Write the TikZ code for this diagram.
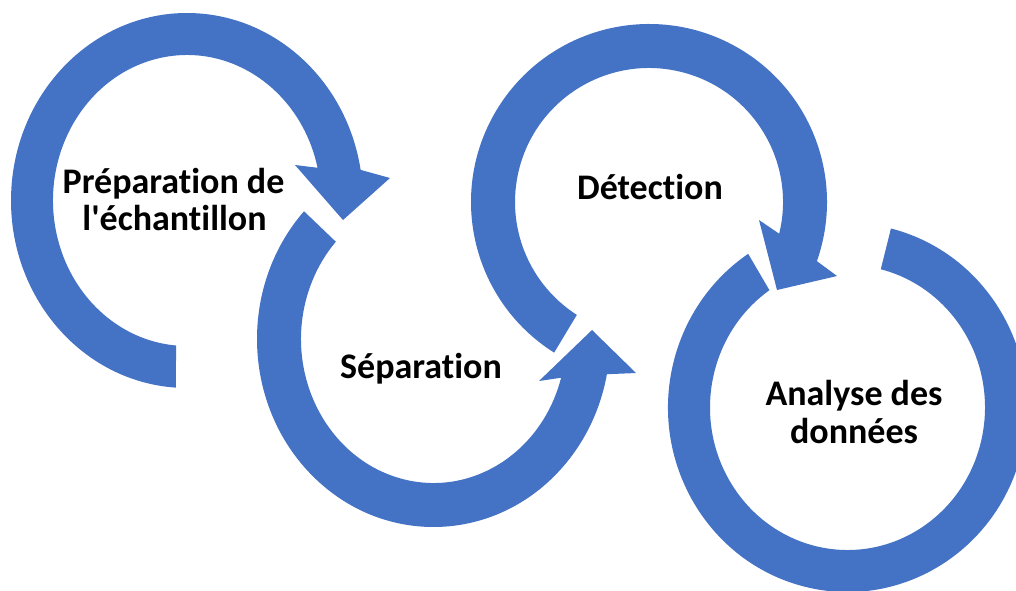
\documentclass[tikz,border=0pt]{standalone}
\usepackage{fontspec}
\newfontfamily\labfont{Carlito}[Ligatures=CommonOff]
\usetikzlibrary{calc}
\definecolor{arrowblue}{HTML}{4472C4}
\begin{document}
\begin{tikzpicture}[x=1pt,y=-1pt,
  band/.style={fill=arrowblue, draw=none},
  lbl/.style={font=\labfont\bfseries\fontsize{36}{38}\selectfont, anchor=base, inner sep=0pt, text=black}]
\useasboundingbox (0,0) rectangle (1016,590);
\fill[white] (0,0) rectangle (1016,590);
\clip (0,0) rectangle (1016,590);

% shape 1 : Preparation
\coordinate (c1) at (187,200.5);
\coordinate (o1) at (390,178);
\coordinate (t1) at (343,220);
\coordinate (i1) at (295,165);
\fill[band] ($(c1)+(93.6:176 and 187.5)$)
  arc[start angle=93.6, end angle=350.6, x radius=176, y radius=187.5]
  -- (o1) -- (t1) -- (i1) -- ($(c1)+(347:134 and 145.5)$)
  arc[start angle=347, end angle=94.7, x radius=134, y radius=145.5] -- cycle;

% shape 2 : Separation
\coordinate (c2) at (433.5,339);
\coordinate (o2) at (636,373);
\coordinate (t2) at (592,330);
\coordinate (i2) at (539,381);
\fill[band] ($(c2)+(222.8:176.5 and 188)$)
  arc[start angle=222.8, end angle=10.8, x radius=176.5, y radius=188]
  -- (o2) -- (t2) -- (i2) -- ($(c2)+(15.6:132.5 and 144)$)
  arc[start angle=15.6, end angle=222.5, x radius=132.5, y radius=144] -- cycle;

% shape 3 : Detection
\coordinate (c3) at (649,202);
\coordinate (o3) at (837,276);
\coordinate (t3) at (777,290);
\coordinate (i3) at (759,220);
\fill[band] ($(c3)+(122.2:178 and 178)$)
  arc[start angle=122.2, end angle=379.4, x radius=178, y radius=178]
  -- (o3) -- (t3) -- (i3) -- ($(c3)+(373.7:134 and 134)$)
  arc[start angle=373.7, end angle=122.6, x radius=134, y radius=134] -- cycle;

% shape 4 : Analyse
\coordinate (c4) at (847.5,407.5);
\fill[band] ($(c4)+(284:179.5 and 184.5)$)
  arc[start angle=284, end angle=596.4, x radius=179.5, y radius=184.5]
  -- ($(c4)+(595.4:137.5 and 142.5)$)
  arc[start angle=595.4, end angle=284, x radius=137.5, y radius=142.5] -- cycle;

% labels
\node[lbl] (prep1) at (173.5,193) {Préparation de};
\node[lbl] (prep2) at (174.5,230) {l'échantillon};
\node[lbl] (sep) at (421,378) {Séparation};
\node[lbl] (det) at (650,199) {Détection};
\node[lbl] (ana1) at (854,405) {Analyse des};
\node[lbl] (ana2) at (854,443) {données};
\end{tikzpicture}
\end{document}
